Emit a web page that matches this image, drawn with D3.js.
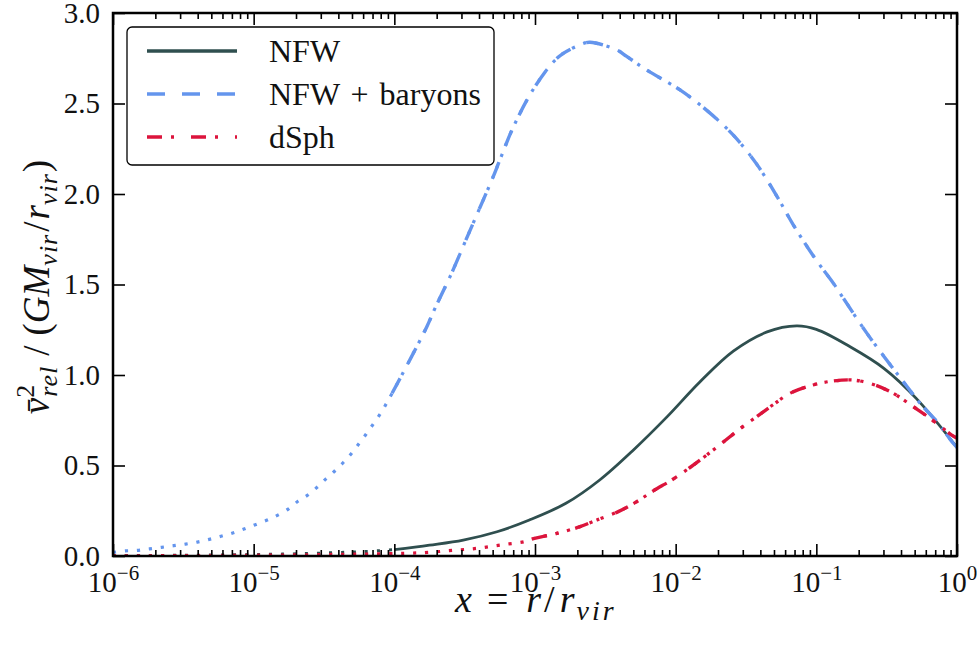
<!DOCTYPE html>
<html lang="en">
<head>
<meta charset="utf-8">
<title>Relative velocity profiles</title>
<script src="https://cdn.jsdelivr.net/npm/d3@7"></script>
<style>
  body { margin: 0; background: #fff; }
  svg text { font-family: "Liberation Serif", "DejaVu Serif", serif; fill: #111; }
</style>
</head>
<body>
<div id="chart"></div>
<script>
// x values are log10(r / r_vir), y values are v_rel^2 / (G M_vir / r_vir)

// NFW, solid from 1e-4, dotted below
var nfwLogX = [-4, -3.75, -3.51, -3.27, -3.04, -2.78, -2.54, -2.3, -2.06, -1.83, -1.59, -1.35, -1.14, -1.0, -0.76, -0.52, -0.29, 0];
var nfwV    = [0.035, 0.06, 0.088, 0.134, 0.199, 0.291, 0.42, 0.586, 0.77, 0.96, 1.132, 1.238, 1.271, 1.252, 1.156, 1.037, 0.871, 0.6];
var nfwLowLogX = [-6, -5.5, -5, -4.7, -4.4, -4.2, -4];
var nfwLowV    = [0.002, 0.004, 0.008, 0.012, 0.019, 0.025, 0.035];

// NFW + baryons, dashed from 1e-4, dotted everywhere
var barLogX = [-4.016, -3.884, -3.769, -3.706, -3.6, -3.5, -3.4, -3.3, -3.249, -3.154, -3.023, -2.881, -2.799, -2.668, -2.609,
               -2.419, -2.348, -2.206, -1.969, -1.768, -1.59, -1.424, -1.282, -1.164, -1.01, -0.879, -0.808, -0.64,
               -0.464, -0.358, -0.263, -0.133, -0.027, 0];
var barV    = [0.899, 1.092, 1.267, 1.377, 1.55, 1.73, 1.91, 2.09, 2.19, 2.37, 2.565, 2.72, 2.777, 2.828, 2.838,
               2.796, 2.76, 2.685, 2.575, 2.455, 2.325, 2.165, 1.99, 1.83, 1.645, 1.507, 1.424, 1.23,
               1.046, 0.939, 0.844, 0.733, 0.623, 0.6];
var barLowLogX = [-6, -5.915, -5.827, -5.742, -5.654, -5.569, -5.483, -5.4, -5.315, -5.232, -5.149, -5.069, -4.988, -4.87,
                  -4.752, -4.683, -4.615, -4.549, -4.488, -4.422, -4.361, -4.302, -4.252, -4.2, -4.15, -4.099, -4.056];
var barLowV    = [0.02, 0.028, 0.031, 0.039, 0.048, 0.057, 0.066, 0.077, 0.092, 0.109, 0.127, 0.149, 0.173, 0.21,
                  0.26, 0.304, 0.337, 0.38, 0.425, 0.471, 0.518, 0.569, 0.62, 0.674, 0.729, 0.786, 0.843];

// dSph, dash-dot from 1e-3, dotted everywhere
var dsphLogX = [-3.012, -2.844, -2.68, -2.561, -2.408, -2.277, -2.159, -2.028, -1.898, -1.779, -1.661, -1.543, -1.424, -1.3,
                -1.187, -1.022, -0.879, -0.737, -0.595, -0.453, -0.311, -0.192, -0.05, 0];
var dsphV    = [0.096, 0.125, 0.162, 0.199, 0.245, 0.3, 0.36, 0.42, 0.489, 0.558, 0.63, 0.703, 0.77, 0.84,
                0.899, 0.945, 0.967, 0.972, 0.948, 0.899, 0.825, 0.761, 0.675, 0.65];
var dsphLowLogX = [-6, -5.5, -5, -4.5, -4.2, -3.931, -3.758, -3.588, -3.415, -3.244, -3.076];
var dsphLowV    = [0.001, 0.002, 0.004, 0.008, 0.011, 0.015, 0.02, 0.031, 0.042, 0.061, 0.079];

var xTickValues = [1e-6, 1e-5, 1e-4, 1e-3, 1e-2, 1e-1, 1];
var xTickExp = ["\u22126", "\u22125", "\u22124", "\u22123", "\u22122", "\u22121", "0"];
var yTickValues = [0, 0.5, 1.0, 1.5, 2.0, 2.5, 3.0];
var legendNames = ["NFW", "NFW + baryons", "dSph"];

var Vis = {};
Vis.width = 977;
Vis.height = 646;
Vis.left = 113;
Vis.right = 957;
Vis.top = 13;
Vis.bottom = 556;

Vis.slate = "#2f4f4f";
Vis.blue = "#6495ed";
Vis.red = "#dc143c";

Vis.x = d3.scaleLog().domain([1e-6, 1]).range([Vis.left, Vis.right]);
Vis.y = d3.scaleLinear().domain([0, 3]).range([Vis.bottom, Vis.top]);

var pairs = function(xs, ys) { return xs.map(function(v, i) { return [v, ys[i]]; }); };

Vis.line = d3.line()
  .x(function(d) { return Vis.x(Math.pow(10, d[0])); })
  .y(function(d) { return Vis.y(d[1]); })
  .curve(d3.curveCatmullRom.alpha(0.5));

Vis.svg = d3.select("#chart").append("svg")
  .attr("width", Vis.width)
  .attr("height", Vis.height);

Vis.svg.append("clipPath").attr("id", "clip")
  .append("rect")
  .attr("x", Vis.left).attr("y", Vis.top)
  .attr("width", Vis.right - Vis.left).attr("height", Vis.bottom - Vis.top);

var plot = Vis.svg.append("g").attr("clip-path", "url(#clip)");

var series = [
  { data: pairs(nfwLowLogX, nfwLowV), color: Vis.slate, dash: "3,9", w: 3 },
  { data: pairs(nfwLogX, nfwV), color: Vis.slate, dash: null, w: 2.8 },
  { data: pairs(barLowLogX, barLowV).concat(pairs(barLogX, barV)), color: Vis.blue, dash: "3.2,8.8", w: 3.2 },
  { data: pairs(barLogX, barV), color: Vis.blue, dash: "17,17", w: 3.4 },
  { data: pairs(dsphLowLogX, dsphLowV).concat(pairs(dsphLogX, dsphV)), color: Vis.red, dash: "3.2,8.8", w: 3.2 },
  { data: pairs(dsphLogX, dsphV), color: Vis.red, dash: "14,9,3,17", w: 3.4 }
];

plot.selectAll("path.curve")
  .data(series)
  .enter()
  .append("path")
  .attr("class", "curve")
  .attr("d", function(d) { return Vis.line(d.data); })
  .attr("fill", "none")
  .attr("stroke", function(d) { return d.color; })
  .attr("stroke-width", function(d) { return d.w; })
  .attr("stroke-dasharray", function(d) { return d.dash; })
  .attr("stroke-linecap", "butt");

// minor log ticks
var minorX = [];
for (var k = -6; k < 0; k++) {
  for (var m = 2; m <= 9; m++) minorX.push(m * Math.pow(10, k));
}

var styleAxis = function(g) {
  g.select(".domain").remove();
  g.selectAll(".tick line").attr("stroke", "#000").attr("stroke-width", 1.6);
  g.attr("font-family", null).attr("font-size", 29);
};

// bottom axis with labels
Vis.svg.append("g")
  .attr("transform", "translate(0," + Vis.bottom + ")")
  .call(d3.axisBottom(Vis.x).tickValues(xTickValues).tickSizeInner(-12).tickSizeOuter(0).tickPadding(15).tickFormat(""))
  .call(styleAxis)
  .call(function(g) {
    g.selectAll(".tick text").each(function(d, i) {
      var t = d3.select(this).attr("fill", "#111");
      t.append("tspan").text("10");
      t.append("tspan").attr("font-size", 21).attr("dy", -12).text(xTickExp[i]);
    });
  });

Vis.svg.append("g")
  .attr("transform", "translate(0," + Vis.bottom + ")")
  .call(d3.axisBottom(Vis.x).tickValues(minorX).tickSizeInner(-6).tickSizeOuter(0).tickFormat(""))
  .call(styleAxis);

// top axis mirror
Vis.svg.append("g")
  .attr("transform", "translate(0," + Vis.top + ")")
  .call(d3.axisTop(Vis.x).tickValues(xTickValues).tickSizeInner(-12).tickSizeOuter(0).tickFormat(""))
  .call(styleAxis);

Vis.svg.append("g")
  .attr("transform", "translate(0," + Vis.top + ")")
  .call(d3.axisTop(Vis.x).tickValues(minorX).tickSizeInner(-6).tickSizeOuter(0).tickFormat(""))
  .call(styleAxis);

// left axis with labels
Vis.svg.append("g")
  .attr("transform", "translate(" + Vis.left + ",0)")
  .call(d3.axisLeft(Vis.y).tickValues(yTickValues).tickSizeInner(-12).tickSizeOuter(0).tickPadding(13).tickFormat(d3.format(".1f")))
  .call(styleAxis)
  .call(function(g) { g.selectAll(".tick text").attr("fill", "#111"); });

// right axis mirror
Vis.svg.append("g")
  .attr("transform", "translate(" + Vis.right + ",0)")
  .call(d3.axisRight(Vis.y).tickValues(yTickValues).tickSizeInner(-12).tickSizeOuter(0).tickFormat(""))
  .call(styleAxis);

// frame
Vis.svg.append("rect")
  .attr("x", Vis.left).attr("y", Vis.top)
  .attr("width", Vis.right - Vis.left).attr("height", Vis.bottom - Vis.top)
  .attr("fill", "none").attr("stroke", "#000").attr("stroke-width", 2.5);

// x label: x = r / r_vir
var xl = Vis.svg.append("text")
  .attr("x", 455).attr("y", 612)
  .attr("font-size", 38);
xl.append("tspan").attr("font-style", "italic").text("x");
xl.append("tspan").attr("dx", 15).text("=");
xl.append("tspan").attr("dx", 18).attr("font-style", "italic").text("r");
xl.append("tspan").attr("dx", 3).text("/");
xl.append("tspan").attr("dx", 5).attr("font-style", "italic").text("r");
xl.append("tspan").attr("dx", 2).attr("font-style", "italic").attr("font-size", 28)
  .attr("letter-spacing", 3).attr("dy", 8).text("vir");

// y label: v_rel^2 / (G M_vir / r_vir)
var yl = Vis.svg.append("text")
  .attr("transform", "translate(49,287) rotate(-90)")
  .attr("text-anchor", "middle")
  .attr("font-size", 37);
yl.append("tspan").attr("font-style", "italic").text("v\u0304");
yl.append("tspan").attr("font-size", 26).attr("dy", -15).text("2");
yl.append("tspan").attr("font-size", 26).attr("font-style", "italic").attr("dx", -12).attr("dy", 23)
  .attr("letter-spacing", 1).text("rel");
yl.append("tspan").attr("dx", 10).attr("dy", -8).text("/");
yl.append("tspan").attr("dx", 10).text("(");
yl.append("tspan").attr("font-style", "italic").text("GM");
yl.append("tspan").attr("font-size", 26).attr("font-style", "italic").attr("letter-spacing", 1).attr("dy", 8).text("vir");
yl.append("tspan").attr("dx", 2).attr("dy", -8).text("/");
yl.append("tspan").attr("dx", 2).attr("font-style", "italic").text("r");
yl.append("tspan").attr("font-size", 26).attr("font-style", "italic").attr("letter-spacing", 1).attr("dy", 8).text("vir");
yl.append("tspan").attr("dx", 1).attr("dy", -8).text(")");

// legend
var lg = Vis.svg.append("g");
lg.append("rect")
  .attr("x", 127).attr("y", 27).attr("width", 367).attr("height", 138)
  .attr("rx", 5).attr("fill", "#fff").attr("stroke", "#000").attr("stroke-width", 1.3);

var legendStyles = [
  { color: Vis.slate, dash: null },
  { color: Vis.blue, dash: "18,17" },
  { color: Vis.red, dash: "15,9,3,17" }
];

var rows = lg.selectAll("g.row")
  .data(legendNames)
  .enter()
  .append("g")
  .attr("class", "row")
  .attr("transform", function(d, i) { return "translate(0," + (51 + i * 43) + ")"; });

rows.append("line")
  .attr("x1", 147).attr("x2", 237)
  .attr("stroke", function(d, i) { return legendStyles[i].color; })
  .attr("stroke-width", 3.4)
  .attr("stroke-dasharray", function(d, i) { return legendStyles[i].dash; });

rows.append("text")
  .attr("x", 269).attr("y", 11)
  .attr("font-size", 32)
  .attr("word-spacing", 3)
  .text(function(d) { return d; });
</script>
</body>
</html>
